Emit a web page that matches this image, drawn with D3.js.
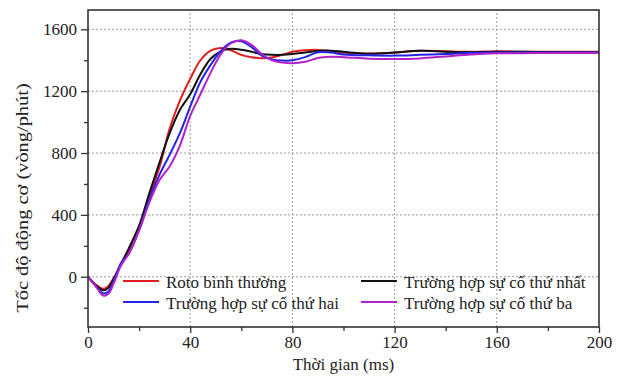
<!DOCTYPE html>
<html>
<head>
<meta charset="utf-8">
<script src="https://cdn.jsdelivr.net/npm/d3@7"></script>
<style>
  html, body { margin: 0; padding: 0; background: #fff; }
  svg { display: block; }
  text { font-family: "Liberation Serif", "Times New Roman", serif; fill: #222; }
</style>
</head>
<body>
<svg id="chart" width="621" height="376"></svg>
<script>
// Thời gian (ms)
const timeMs = [0, 3, 6, 8, 10, 13, 16, 20, 24, 28, 32, 36, 40, 44, 48, 52, 56, 60, 64, 68, 72, 76, 80, 85, 90, 95, 100, 110, 120, 130, 140, 150, 160, 170, 180, 190, 200];

// Tốc độ động cơ (vòng/phút) cho từng trường hợp
const rotoBinhThuong = [0, -50, -78, -60, -10, 80, 170, 320, 520, 710, 960, 1140, 1280, 1400, 1462, 1480, 1465, 1435, 1420, 1413, 1418, 1435, 1455, 1465, 1467, 1458, 1448, 1443, 1450, 1462, 1458, 1455, 1458, 1455, 1455, 1455, 1455];
const suCoThuNhat = [0, -55, -88, -72, -15, 85, 185, 330, 540, 740, 930, 1080, 1180, 1310, 1410, 1458, 1474, 1468, 1455, 1440, 1435, 1435, 1440, 1450, 1460, 1462, 1455, 1442, 1450, 1461, 1455, 1452, 1455, 1455, 1453, 1452, 1452];
const suCoThuHai = [0, -60, -108, -95, -30, 90, 150, 300, 500, 660, 790, 930, 1100, 1260, 1370, 1460, 1515, 1522, 1485, 1430, 1405, 1398, 1400, 1420, 1452, 1450, 1438, 1432, 1430, 1435, 1440, 1448, 1450, 1450, 1450, 1450, 1450];
const suCoThuBa = [0, -60, -122, -110, -45, 75, 150, 300, 480, 625, 715, 850, 1040, 1180, 1320, 1440, 1510, 1530, 1500, 1440, 1400, 1385, 1380, 1390, 1415, 1422, 1420, 1410, 1408, 1412, 1425, 1438, 1445, 1446, 1447, 1447, 1448];

const seriesNames = ["Roto bình thường", "Trường hợp sự cố thứ nhất", "Trường hợp sự cố thứ hai", "Trường hợp sự cố thứ ba"];
const seriesColors = ["#e11d1d", "#111111", "#2424e6", "#b222c8"];
const seriesValues = [rotoBinhThuong, suCoThuNhat, suCoThuHai, suCoThuBa];

const xTicks = [0, 40, 80, 120, 160, 200];
const yTicks = [0, 400, 800, 1200, 1600];

const margin = { left: 88, right: 22, top: 10, bottom: 49 };
const W = 621, H = 376;
const svg = d3.select("#chart");

const x = d3.scaleLinear().domain([0, 200]).range([margin.left, W - margin.right]);
const y = d3.scaleLinear().domain([-325, 1725]).range([H - margin.bottom, margin.top]);

const gridColor = "#9a9a9a";
// Lưới chấm
svg.append("g").selectAll("line.gy").data(yTicks).join("line")
  .attr("x1", x(0)).attr("x2", x(200))
  .attr("y1", d => y(d)).attr("y2", d => y(d))
  .attr("stroke", gridColor).attr("stroke-width", 1).attr("stroke-dasharray", "2,2");
svg.append("g").selectAll("line.gx").data(xTicks.filter(d => d > 0 && d < 200)).join("line")
  .attr("x1", d => x(d)).attr("x2", d => x(d))
  .attr("y1", y(-325)).attr("y2", y(1725))
  .attr("stroke", gridColor).attr("stroke-width", 1).attr("stroke-dasharray", "2,2");

// Đường cong tốc độ
const line = d3.line().x((d, i) => x(timeMs[i])).y(d => y(d)).curve(d3.curveCatmullRom.alpha(0.5));
const plot = svg.append("g");
seriesValues.forEach((vals, k) => {
  plot.append("path").datum(vals)
    .attr("d", line)
    .attr("fill", "none")
    .attr("stroke", seriesColors[k])
    .attr("stroke-width", 2)
    .attr("stroke-linejoin", "round");
});

// Trục
const axisColor = "#333";
const xAxis = d3.axisBottom(x).tickValues(d3.range(0, 201, 20)).tickSize(5).tickPadding(4)
  .tickFormat(d => xTicks.includes(d) ? d : "");
const gx = svg.append("g").attr("transform", `translate(0,${y(-325)})`).call(xAxis);
gx.selectAll(".tick line").attr("stroke", axisColor).attr("stroke-width", 1.3)
  .attr("y2", d => xTicks.includes(d) ? 6 : 4);
gx.select(".domain").remove();
gx.selectAll("text").style("font-size", "17px").attr("fill", "#333").attr("font-family", "Liberation Serif");

const yAxis = d3.axisLeft(y).tickValues(d3.range(-200, 1601, 200)).tickSize(6).tickPadding(5)
  .tickFormat(d => yTicks.includes(d) ? d : "");
const gy = svg.append("g").attr("transform", `translate(${x(0)},0)`).call(yAxis);
gy.selectAll(".tick line").attr("stroke", axisColor).attr("stroke-width", 1.3)
  .attr("x2", d => yTicks.includes(d) ? -7 : -4);
gy.select(".domain").remove();
gy.selectAll("text").style("font-size", "17px").attr("fill", "#333").attr("font-family", "Liberation Serif");

// Khung
svg.append("rect")
  .attr("x", x(0)).attr("y", y(1725))
  .attr("width", x(200) - x(0)).attr("height", y(-325) - y(1725))
  .attr("fill", "none").attr("stroke", axisColor).attr("stroke-width", 1.6);

// Tiêu đề trục
svg.append("text").attr("x", (x(0) + x(200)) / 2).attr("y", 370)
  .attr("text-anchor", "middle").style("font-size", "17px").text("Thời gian (ms)");
svg.append("text").attr("transform", "translate(28,198) rotate(-90) scale(1.2,1)")
  .attr("text-anchor", "middle").style("font-size", "17px").text("Tốc độ động cơ (vòng/phút)");

// Chú giải
const legendItems = [
  { name: seriesNames[0], color: seriesColors[0], lx: 123, ly: 281 },
  { name: seriesNames[2], color: seriesColors[2], lx: 123, ly: 302 },
  { name: seriesNames[1], color: seriesColors[1], lx: 361, ly: 281 },
  { name: seriesNames[3], color: seriesColors[3], lx: 361, ly: 302 }
];
const lg = svg.append("g").selectAll("g").data(legendItems).join("g");
lg.append("line")
  .attr("x1", d => d.lx).attr("x2", d => d.lx + 36)
  .attr("y1", d => d.ly).attr("y2", d => d.ly)
  .attr("stroke", d => d.color).attr("stroke-width", 2.2);
lg.append("text")
  .attr("x", d => d.lx + 43).attr("y", d => d.ly + 7)
  .style("font-size", "17px").text(d => d.name);
</script>
</body>
</html>
